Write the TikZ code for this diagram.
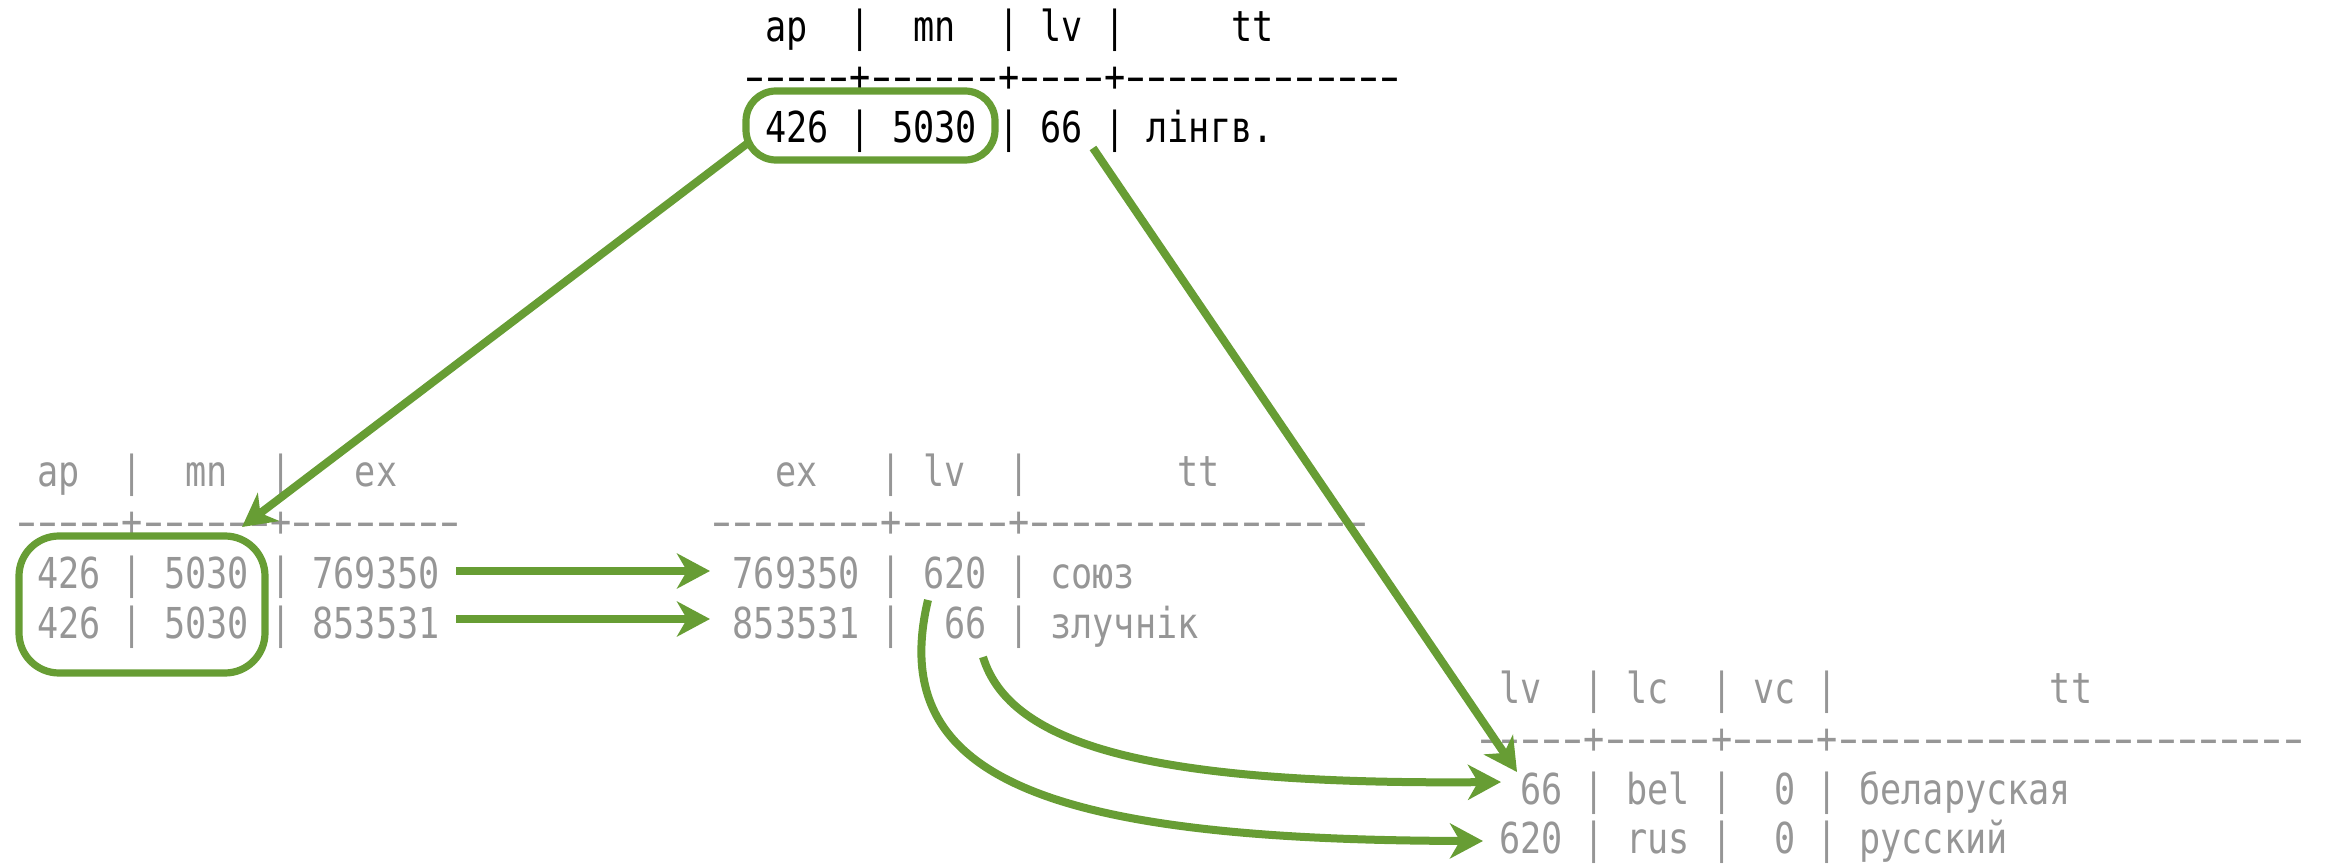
\documentclass[tikz,border=0pt]{standalone}
\usepackage{fontspec}
\usepackage{graphicx}
\newfontfamily\tabfont[FakeStretch=0.826,Ligatures=TeXOff]{DejaVu Sans Mono}
\usetikzlibrary{arrows.meta}
\definecolor{selgreen}{RGB}{103,157,52}
\definecolor{txtgray}{RGB}{150,150,150}
\newdimen\cellw
\newcommand\tabsetup{\tabfont\fontsize{21.3pt}{25pt}\selectfont\setbox0\hbox{0}\global\cellw=\wd0 \fontdimen2\font=\wd0 \fontdimen3\font=0pt \fontdimen4\font=0pt }
\newcommand\dsh{\makebox[\cellw]{\scalebox{1.65}[1]{-}}}
\ExplSyntaxOn
\cs_new:Npn \dashrun #1 { \prg_replicate:nn {#1} {\dsh} }
\ExplSyntaxOff
\tikzset{
  row/.style={anchor=base west, inner sep=0pt, outer sep=0pt, font=\tabsetup, text=txtgray},
  toprow/.style={row, text=black},
  selbox/.style={draw=selgreen, line width=3.6pt, inner sep=0pt, outer sep=0pt},
  link/.style={draw=selgreen, line width=4pt, -{Stealth[length=16.5pt,width=17.5pt,inset=5pt]}}
}
\begin{document}
\begin{tikzpicture}[x=0.5pt,y=-0.5pt]
\useasboundingbox (0,0) rectangle (2326,866);
% top table
\node[toprow] (th) at (744,42) {~ap~~|~~mn~~|~lv~|~~~~~tt};
\node[toprow] (td) at (744,92) {\dashrun{5}+\dashrun{6}+\dashrun{4}+\dashrun{13}};
\node[toprow] (tr) at (744,143) {~426~|~5030~|~66~|~лінгв.};
% left table
\node[row] (lh) at (16,487) {~ap~~|~~mn~~|~~~ex};
\node[row] (ld) at (16,537) {\dashrun{5}+\dashrun{6}+\dashrun{8}};
\node[row] (lr1) at (16,588) {~426~|~5030~|~769350};
\node[row] (lr2) at (16,638) {~426~|~5030~|~853531};
% middle table
\node[row] (mh) at (711.5,487) {~~~ex~~~|~lv~~|~~~~~~~tt};
\node[row] (md) at (711.5,537) {\dashrun{8}+\dashrun{5}+\dashrun{16}};
\node[row] (mr1) at (711.5,588) {~769350~|~620~|~союз};
\node[row] (mr2) at (711.5,638) {~853531~|~~66~|~злучнік};
% right table
\node[row] (rh) at (1478,703) {~lv~~|~lc~~|~vc~|~~~~~~~~~~tt};
\node[row] (rd) at (1478,753) {\dashrun{5}+\dashrun{5}+\dashrun{4}+\dashrun{22}};
\node[row] (rr1) at (1478,804) {~~66~|~bel~|~~0~|~беларуская};
\node[row] (rr2) at (1478,853) {~620~|~rus~|~~0~|~русский};
% selection boxes
\node[selbox, rounded corners=15pt, minimum width=124.5pt, minimum height=34.5pt] (topsel) at (870.5,125.5) {};
\node[selbox, rounded corners=20pt, minimum width=123pt, minimum height=68.5pt] (leftsel) at (142,604.5) {};
% connector end points
\coordinate (a0) at (748,143);
\coordinate (a1) at (242,527);
\coordinate (b0) at (1093,148);
\coordinate (b1) at (1517,772);
\coordinate (s10) at (456,571);
\coordinate (s11) at (710,571);
\coordinate (s20) at (456,619);
\coordinate (s21) at (710,619);
\coordinate (c0) at (983,657);
\coordinate (c1) at (1501,782);
\coordinate (d0) at (928,600);
\coordinate (d1) at (1483,841);
% connectors
\draw[link] (a0) -- (a1);
\draw[link] (b0) -- (b1);
\draw[link] (s10) -- (s11);
\draw[link] (s20) -- (s21);
\draw[link] (c0) .. controls (1010,745) and (1150,785) .. (c1);
\draw[link] (d0) .. controls (885,780) and (1050,840) .. (d1);
\end{tikzpicture}
\end{document}
